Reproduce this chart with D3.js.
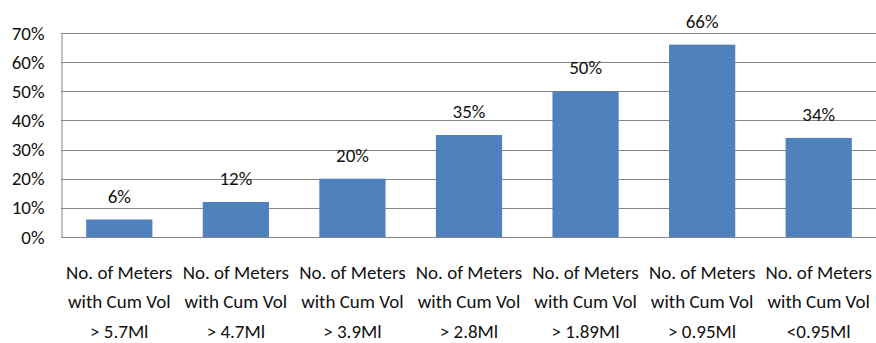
<!DOCTYPE html>
<html>
<head>
<meta charset="utf-8">
<script src="https://cdn.jsdelivr.net/npm/d3@7/dist/d3.min.js"></script>
<style>
  html, body { margin: 0; padding: 0; background: #fff; }
  svg text { font-family: Carlito, Lato, sans-serif; fill: #111; }
</style>
</head>
<body>
<svg id="chart" width="876" height="343"></svg>
<script>
// Share of meters in each cumulative-volume bracket
const categories = [
  ["No. of Meters", "with Cum Vol", "> 5.7Ml"],
  ["No. of Meters", "with Cum Vol", "> 4.7Ml"],
  ["No. of Meters", "with Cum Vol", "> 3.9Ml"],
  ["No. of Meters", "with Cum Vol", "> 2.8Ml"],
  ["No. of Meters", "with Cum Vol", "> 1.89Ml"],
  ["No. of Meters", "with Cum Vol", "> 0.95Ml"],
  ["No. of Meters", "with Cum Vol", "<0.95Ml"]
];
const values = [6, 12, 20, 35, 50, 66, 34];
const yTicks = [0, 10, 20, 30, 40, 50, 60, 70];

const svg = d3.select("#chart");
const plot = { left: 61, right: 877, top: 33, bottom: 237 };
const fontSize = 19;

const x = d3.scaleBand()
  .domain(d3.range(values.length))
  .range([plot.left, plot.right])
  .paddingInner(0.432)
  .paddingOuter(0.216);

const y = d3.scaleLinear()
  .domain([0, 70])
  .range([plot.bottom, plot.top]);

// horizontal gridlines
svg.append("g")
  .selectAll("line")
  .data(yTicks.filter(t => t > 0))
  .join("line")
  .attr("x1", plot.left)
  .attr("x2", 876)
  .attr("y1", d => Math.round(y(d)) + 0.5)
  .attr("y2", d => Math.round(y(d)) + 0.5)
  .attr("stroke", "#868686")
  .attr("stroke-width", 1);

// y axis with percent labels
const yAxis = d3.axisLeft(y)
  .tickValues(yTicks)
  .tickFormat(d => d + "%")
  .tickSize(0)
  .tickPadding(17);
const yg = svg.append("g")
  .attr("transform", `translate(${plot.left + 0.5},0)`)
  .call(yAxis);
yg.select(".domain").attr("stroke", "#868686");
yg.selectAll("text")
  .attr("font-size", fontSize)
  .style("font-family", "Carlito, Lato, sans-serif")
  .style("fill", "#111");

// bars
svg.append("g")
  .selectAll("rect")
  .data(values)
  .join("rect")
  .attr("x", (d, i) => x(i))
  .attr("width", x.bandwidth())
  .attr("y", d => y(d))
  .attr("height", d => y(0) - y(d))
  .attr("fill", "#4F81BD");

// baseline
svg.append("line")
  .attr("x1", plot.left)
  .attr("x2", 876)
  .attr("y1", plot.bottom + 0.5)
  .attr("y2", plot.bottom + 0.5)
  .attr("stroke", "#868686");

// value labels above the bars
svg.append("g")
  .selectAll("text")
  .data(values)
  .join("text")
  .attr("x", (d, i) => x(i) + x.bandwidth() / 2)
  .attr("y", d => y(d) - 17)
  .attr("text-anchor", "middle")
  .attr("font-size", fontSize)
  .text(d => d + "%");

// three-line category labels
const lineY = [278.5, 308, 337.5];
const cat = svg.append("g")
  .selectAll("text")
  .data(categories)
  .join("text")
  .attr("text-anchor", "middle")
  .attr("font-size", fontSize);
cat.selectAll("tspan")
  .data((d, i) => d.map(s => ({ s, i })))
  .join("tspan")
  .attr("x", d => x(d.i) + x.bandwidth() / 2)
  .attr("y", (d, j) => lineY[j])
  .text(d => d.s);
</script>
</body>
</html>
